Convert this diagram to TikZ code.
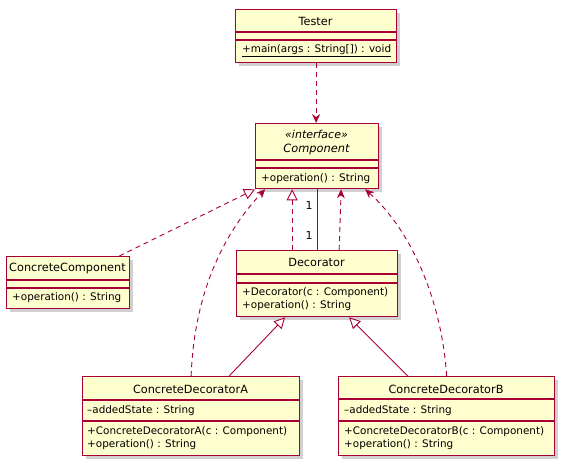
\documentclass[tikz,border=0pt]{standalone}
\usepackage{fontspec}
\setmainfont{DejaVu Sans}
\usetikzlibrary{arrows.meta,shadows}
\definecolor{umlborder}{HTML}{A80036}
\definecolor{umlfill}{HTML}{FEFECE}
\tikzset{
  classbox/.style={draw=umlborder, fill=umlfill, line width=1.3pt, rectangle, inner sep=0pt, anchor=north west,
    general shadow={fill=black!60, opacity=.3, shadow xshift=3pt, shadow yshift=-3pt}},
  sepline/.style={draw=umlborder, line width=1.1pt},
  cname/.style={font=\fontsize{11.3}{13}\selectfont, inner sep=0pt, anchor=center},
  member/.style={font=\fontsize{10.4}{12}\selectfont, inner sep=0pt, anchor=west},
  conn/.style={draw=umlborder, line width=0.9pt},
  dashline/.style={conn, dash pattern=on 5pt off 4pt},
  depend/.style={dashline, -{Stealth[length=9pt,width=8pt,inset=3pt]}},
  realize/.style={dashline, -{Triangle[open,length=11pt,width=11pt,fill=white]}},
  inherit/.style={conn, -{Triangle[open,length=11pt,width=11pt,fill=white]}},
  mult/.style={font=\fontsize{11}{13}\selectfont, inner sep=0pt},
}
\begin{document}
\begin{tikzpicture}[x=1pt,y=-1pt]
\useasboundingbox[fill=white] (0,0) rectangle (565,466);

% Tester
\node[classbox, minimum width=161pt, minimum height=53pt] (tester) at (235,9) {};
\draw[sepline] (tester.west |- 0,32) -- (tester.east |- 0,32);
\draw[sepline] (tester.west |- 0,40) -- (tester.east |- 0,40);
\node[cname] (testerN) at (315.5,21) {Tester};
\node[member] (testerM) at (242,51) {\underline{+main(args : String[]) : void}};

% Component
\node[classbox, minimum width=123pt, minimum height=65pt] (comp) at (255,123) {};
\draw[sepline] (comp.west |- 0,160) -- (comp.east |- 0,160);
\draw[sepline] (comp.west |- 0,168) -- (comp.east |- 0,168);
\node[cname, font=\fontsize{11}{13}\selectfont\itshape] (compS) at (316.5,134.5) {«interface»};
\node[cname, font=\fontsize{11.4}{13}\selectfont\itshape] (compN) at (316.5,149) {Component};
\node[member] (compM) at (261,179) {+operation() : String};

% ConcreteComponent
\node[classbox, minimum width=123pt, minimum height=52pt] (cc) at (6,256) {};
\draw[sepline] (cc.west |- 0,280) -- (cc.east |- 0,280);
\draw[sepline] (cc.west |- 0,288) -- (cc.east |- 0,288);
\node[cname] (ccN) at (67.5,268) {ConcreteComponent};
\node[member] (ccM) at (12,298) {+operation() : String};

% Decorator
\node[classbox, minimum width=161pt, minimum height=66pt] (dec) at (236,250) {};
\draw[sepline] (dec.west |- 0,274) -- (dec.east |- 0,274);
\draw[sepline] (dec.west |- 0,283) -- (dec.east |- 0,283);
\node[cname] (decN) at (316.5,262) {Decorator};
\node[member] (decM1) at (242,293) {+Decorator(c : Component)};
\node[member] (decM2) at (242,306) {+operation() : String};

% ConcreteDecoratorA
\node[classbox, minimum width=217pt, minimum height=79pt] (cda) at (82,376) {};
\draw[sepline] (cda.west |- 0,400) -- (cda.east |- 0,400);
\draw[sepline] (cda.west |- 0,421) -- (cda.east |- 0,421);
\node[cname] (cdaN) at (190.5,389) {ConcreteDecoratorA};
\node[member] (cdaA) at (87,411) {\textendash addedState : String};
\node[member] (cdaM1) at (87,432) {+ConcreteDecoratorA(c : Component)};
\node[member] (cdaM2) at (87,445) {+operation() : String};

% ConcreteDecoratorB
\node[classbox, minimum width=216pt, minimum height=79pt] (cdb) at (338,376) {};
\draw[sepline] (cdb.west |- 0,399) -- (cdb.east |- 0,399);
\draw[sepline] (cdb.west |- 0,421) -- (cdb.east |- 0,421);
\node[cname] (cdbN) at (446,389) {ConcreteDecoratorB};
\node[member] (cdbA) at (344,411) {\textendash addedState : String};
\node[member] (cdbM1) at (344,432) {+ConcreteDecoratorB(c : Component)};
\node[member] (cdbM2) at (344,445) {+operation() : String};

% Connectors
\draw[depend] (tester.south) -- (tester.south |- comp.north);
\draw[realize] ([xshift=-11pt]cc.north east) -- (comp.south west);
\draw[realize] ([xshift=-25pt]dec.north) -- ([xshift=-25pt]comp.south);
\draw[conn] (dec.north) -- (comp.south);
\node[mult] (m1) at (309,205) {1};
\node[mult] (m2) at (309,235) {1};
\draw[depend] ([xshift=22pt]dec.north) -- ([xshift=24pt]comp.south);
\draw[depend] (cda.north) .. controls +(3,-86) and +(-39,41) .. ([xshift=-52pt]comp.south);
\draw[depend] (cdb.north) .. controls +(-5,-76) and +(46,41) .. ([xshift=48pt]comp.south);
\draw[inherit] ([xshift=38pt]cda.north) -- ([xshift=-32pt]dec.south);
\draw[inherit] ([xshift=-39pt]cdb.north) -- ([xshift=32pt]dec.south);
\end{tikzpicture}
\end{document}
